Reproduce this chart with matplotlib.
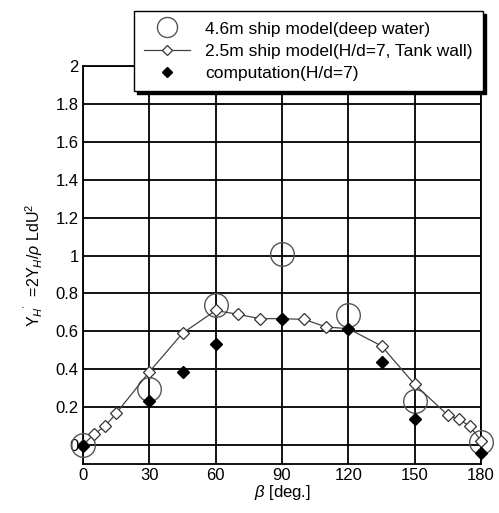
import numpy as np
import matplotlib.pyplot as plt

plt.rcParams['font.family'] = ['Liberation Sans', 'DejaVu Sans']
plt.rcParams['mathtext.fontset'] = 'custom'
plt.rcParams['mathtext.rm'] = 'Liberation Sans'
plt.rcParams['mathtext.it'] = 'Liberation Sans:italic'

# 4.6m ship model (deep water)
beta_46 = [0, 30, 60, 90, 120, 150, 180]
y_46 = [0.0, 0.295, 0.737, 1.01, 0.684, 0.233, 0.014]

# 2.5m ship model (H/d=7, tank wall)
beta_25 = [0, 5, 10, 15, 30, 45, 60, 70, 80, 90, 100, 110, 120, 135, 150, 165, 170, 175, 180]
y_25 = [0.0, 0.058, 0.10, 0.167, 0.386, 0.59, 0.71, 0.69, 0.667, 0.667, 0.663, 0.623, 0.614,
        0.523, 0.32, 0.158, 0.137, 0.098, 0.023]

# computation (H/d=7)
beta_cp = [0, 30, 45, 60, 90, 120, 135, 150, 180]
y_cp = [-0.005, 0.23, 0.386, 0.535, 0.667, 0.614, 0.44, 0.14, -0.04]

xticks = [0, 30, 60, 90, 120, 150, 180]
yticks = [0, 0.2, 0.4, 0.6, 0.8, 1, 1.2, 1.4, 1.6, 1.8, 2]

fig = plt.figure(figsize=(4.99, 5.13), dpi=100)
ax = fig.add_axes([83/499, 1-464/513, (481-83)/499, (464-66)/513])

ax.plot(beta_46, y_46, 'o', ms=17, mfc='none', mec='#555555', mew=1.0,
        label='4.6m ship model(deep water)', zorder=3, clip_on=False)
ax.plot(beta_25, y_25, '-D', ms=6.5, color='#444444', lw=0.9, mfc='white', mec='#333333',
        mew=0.9, label='2.5m ship model(H/d=7, Tank wall)', zorder=4, clip_on=False)
ax.plot(beta_cp, y_cp, 'D', ms=6.5, color='black', label='computation(H/d=7)', zorder=5,
        clip_on=False)

ax.set_xlim(0, 180)
ax.set_ylim(-0.1, 2)
ax.set_xticks(xticks)
ax.set_yticks(yticks)
ax.set_yticklabels(['0', '0.2', '0.4', '0.6', '0.8', '1', '1.2', '1.4', '1.6', '1.8', '2'])
ax.grid(True, color='black', lw=1.3)
ax.tick_params(length=0, labelsize=12, pad=3)
for s in ax.spines.values():
    s.set_linewidth(1.3)

ax.set_xlabel(r'$\it{\beta}$ [deg.]', fontsize=12, labelpad=0)
ax.set_ylabel(r"Y$_H$$^{'}$  =2Y$_H$/$\rho$ LdU$^2$", fontsize=11.5, labelpad=8)

leg = ax.legend(loc='upper left', bbox_to_anchor=(134/499, 1-11/513),
                bbox_transform=fig.transFigure, fontsize=12.5, frameon=True, fancybox=False,
                shadow={'color': 'black', 'alpha': 1}, borderaxespad=0, handlelength=2.6,
                handletextpad=0.9, labelspacing=0.4, borderpad=0.6, markerscale=0.85)
leg.get_frame().set_edgecolor('black')
leg.get_frame().set_linewidth(1.0)
leg.set_zorder(10)

fig.savefig('out.png', dpi=100)
